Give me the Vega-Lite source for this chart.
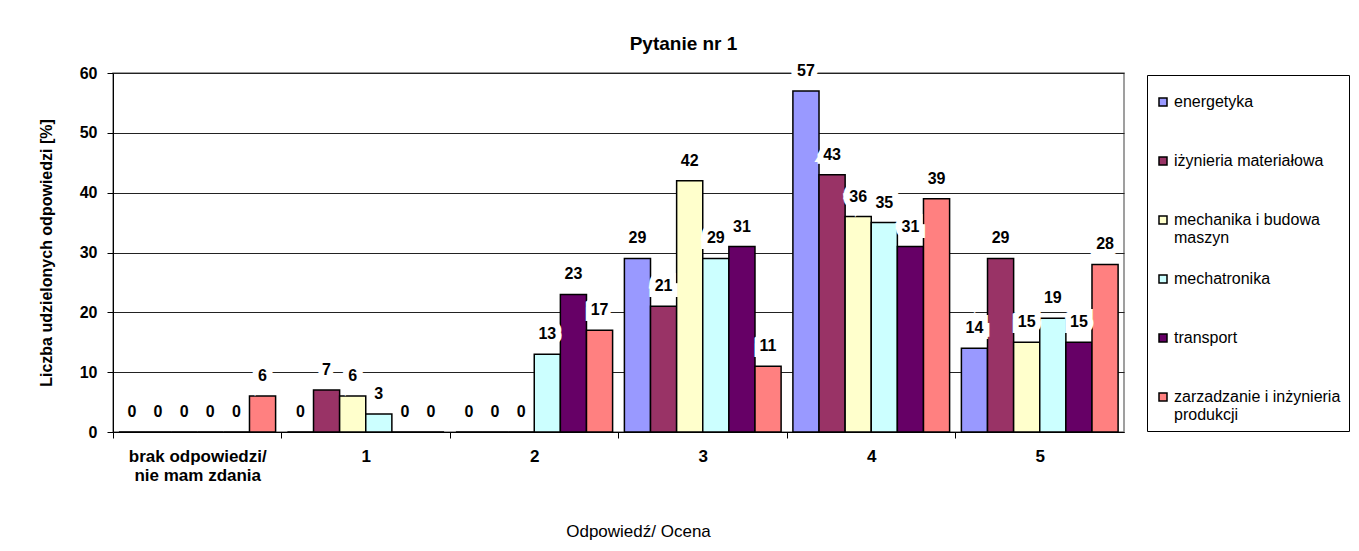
{
  "$schema": "https://vega.github.io/schema/vega-lite/v6.json",
  "width": 1011,
  "height": 359,
  "autosize": {"type": "none"},
  "padding": {"left": 113, "top": 73, "right": 235, "bottom": 119},
  "background": "white",
  "title": {"text": "Pytanie nr 1", "font": "Liberation Sans", "fontSize": 19, "fontWeight": "bold", "color": "black", "offset": 9, "dx": 65},
  "config": {
    "view": {"stroke": "#808080", "strokeWidth": 1.5},
    "font": "Liberation Sans"
  },
  "data": {
    "values": [
      {"odp": "brak odpowiedzi/ nie mam zdania", "kierunek": "energetyka", "wartosc": 0},
      {"odp": "brak odpowiedzi/ nie mam zdania", "kierunek": "iżynieria materiałowa", "wartosc": 0},
      {"odp": "brak odpowiedzi/ nie mam zdania", "kierunek": "mechanika i budowa maszyn", "wartosc": 0},
      {"odp": "brak odpowiedzi/ nie mam zdania", "kierunek": "mechatronika", "wartosc": 0},
      {"odp": "brak odpowiedzi/ nie mam zdania", "kierunek": "transport", "wartosc": 0},
      {"odp": "brak odpowiedzi/ nie mam zdania", "kierunek": "zarzadzanie i inżynieria produkcji", "wartosc": 6},
      {"odp": "1", "kierunek": "energetyka", "wartosc": 0},
      {"odp": "1", "kierunek": "iżynieria materiałowa", "wartosc": 7},
      {"odp": "1", "kierunek": "mechanika i budowa maszyn", "wartosc": 6},
      {"odp": "1", "kierunek": "mechatronika", "wartosc": 3},
      {"odp": "1", "kierunek": "transport", "wartosc": 0},
      {"odp": "1", "kierunek": "zarzadzanie i inżynieria produkcji", "wartosc": 0},
      {"odp": "2", "kierunek": "energetyka", "wartosc": 0},
      {"odp": "2", "kierunek": "iżynieria materiałowa", "wartosc": 0},
      {"odp": "2", "kierunek": "mechanika i budowa maszyn", "wartosc": 0},
      {"odp": "2", "kierunek": "mechatronika", "wartosc": 13},
      {"odp": "2", "kierunek": "transport", "wartosc": 23},
      {"odp": "2", "kierunek": "zarzadzanie i inżynieria produkcji", "wartosc": 17},
      {"odp": "3", "kierunek": "energetyka", "wartosc": 29},
      {"odp": "3", "kierunek": "iżynieria materiałowa", "wartosc": 21},
      {"odp": "3", "kierunek": "mechanika i budowa maszyn", "wartosc": 42},
      {"odp": "3", "kierunek": "mechatronika", "wartosc": 29},
      {"odp": "3", "kierunek": "transport", "wartosc": 31},
      {"odp": "3", "kierunek": "zarzadzanie i inżynieria produkcji", "wartosc": 11},
      {"odp": "4", "kierunek": "energetyka", "wartosc": 57},
      {"odp": "4", "kierunek": "iżynieria materiałowa", "wartosc": 43},
      {"odp": "4", "kierunek": "mechanika i budowa maszyn", "wartosc": 36},
      {"odp": "4", "kierunek": "mechatronika", "wartosc": 35},
      {"odp": "4", "kierunek": "transport", "wartosc": 31},
      {"odp": "4", "kierunek": "zarzadzanie i inżynieria produkcji", "wartosc": 39},
      {"odp": "5", "kierunek": "energetyka", "wartosc": 14},
      {"odp": "5", "kierunek": "iżynieria materiałowa", "wartosc": 29},
      {"odp": "5", "kierunek": "mechanika i budowa maszyn", "wartosc": 15},
      {"odp": "5", "kierunek": "mechatronika", "wartosc": 19},
      {"odp": "5", "kierunek": "transport", "wartosc": 15},
      {"odp": "5", "kierunek": "zarzadzanie i inżynieria produkcji", "wartosc": 28}
    ]
  },
  "encoding": {
    "x": {
      "field": "odp",
      "type": "nominal",
      "sort": ["brak odpowiedzi/ nie mam zdania", "1", "2", "3", "4", "5"],
      "scale": {"paddingInner": 0.07, "paddingOuter": 0.035},
      "title": "Odpowiedź/ Ocena",
      "axis": {
        "labelAngle": 0,
        "bandPosition": 0,
        "tickOffset": -6,
        "labelOffset": 6,
        "labelFont": "Liberation Sans",
        "labelFontSize": 17,
        "labelFontWeight": "bold",
        "labelColor": "black",
        "labelPadding": 10,
        "labelLineHeight": 19,
        "labelLimit": 300,
        "labelExpr": "datum.label == 'brak odpowiedzi/ nie mam zdania' ? ['brak odpowiedzi/', 'nie mam zdania'] : datum.label",
        "domainColor": "black",
        "tickColor": "black",
        "tickSize": 6,
        "titleFont": "Liberation Sans",
        "titleFontSize": 17,
        "titleFontWeight": "normal",
        "titleColor": "black",
        "titlePadding": 40,
        "titleX": 525
      }
    },
    "xOffset": {
      "field": "kierunek",
      "type": "nominal",
      "sort": ["energetyka", "iżynieria materiałowa", "mechanika i budowa maszyn", "mechatronika", "transport", "zarzadzanie i inżynieria produkcji"],
      "scale": {"paddingInner": 0, "paddingOuter": 0}
    },
    "y": {
      "field": "wartosc",
      "type": "quantitative",
      "scale": {"domain": [0, 60]},
      "title": "Liczba udzielonych odpowiedzi [%]",
      "axis": {
        "values": [0, 10, 20, 30, 40, 50, 60],
        "labelFont": "Liberation Sans",
        "labelFontSize": 16,
        "labelFontWeight": "bold",
        "labelColor": "black",
        "labelPadding": 10,
        "tickSize": 6,
        "tickColor": "black",
        "domainColor": "black",
        "gridColor": "#222222",
        "gridWidth": 1,
        "titleFont": "Liberation Sans",
        "titleFontSize": 16,
        "titleFontWeight": "bold",
        "titleColor": "black",
        "titlePadding": 25
      }
    }
  },
  "layer": [
    {
      "mark": {"type": "bar", "stroke": "black", "strokeWidth": 1.5},
      "encoding": {
        "color": {
          "field": "kierunek",
          "type": "nominal",
          "sort": ["energetyka", "iżynieria materiałowa", "mechanika i budowa maszyn", "mechatronika", "transport", "zarzadzanie i inżynieria produkcji"],
          "scale": {
            "domain": ["energetyka", "iżynieria materiałowa", "mechanika i budowa maszyn", "mechatronika", "transport", "zarzadzanie i inżynieria produkcji"],
            "range": ["#9999FF", "#993366", "#FFFFCC", "#CCFFFF", "#660066", "#FF8080"]
          },
          "legend": {
            "title": " ",
            "titleFontSize": 9,
            "titlePadding": 2,
            "orient": "none",
            "legendX": 1034,
            "legendY": 2,
            "strokeColor": "black",
            "fillColor": "white",
            "padding": 8,
            "symbolType": "square",
            "symbolSize": 64,
            "symbolStrokeColor": "black",
            "symbolStrokeWidth": 1.5,
            "symbolOpacity": 1,
            "labelFont": "Liberation Sans",
            "labelFontSize": 16,
            "labelColor": "black",
            "labelLimit": 200,
            "labelOffset": 3,
            "rowPadding": 25,
            "labelExpr": "datum.label == 'mechanika i budowa maszyn' ? ['mechanika i budowa', 'maszyn'] : datum.label == 'zarzadzanie i inżynieria produkcji' ? ['zarzadzanie i inżynieria', 'produkcji'] : [datum.label, '']"
          }
        }
      }
    },
    {
      "mark": {"type": "text", "baseline": "middle", "dy": -20, "fontSize": 16, "fontWeight": "bold", "font": "Liberation Sans", "stroke": "white", "strokeWidth": 12, "strokeJoin": "miter", "fill": "white"},
      "encoding": {"text": {"field": "wartosc", "type": "quantitative"}}
    },
    {
      "mark": {"type": "text", "baseline": "middle", "dy": -20, "fontSize": 16, "fontWeight": "bold", "font": "Liberation Sans", "color": "black"},
      "encoding": {"text": {"field": "wartosc", "type": "quantitative"}}
    }
  ]
}
